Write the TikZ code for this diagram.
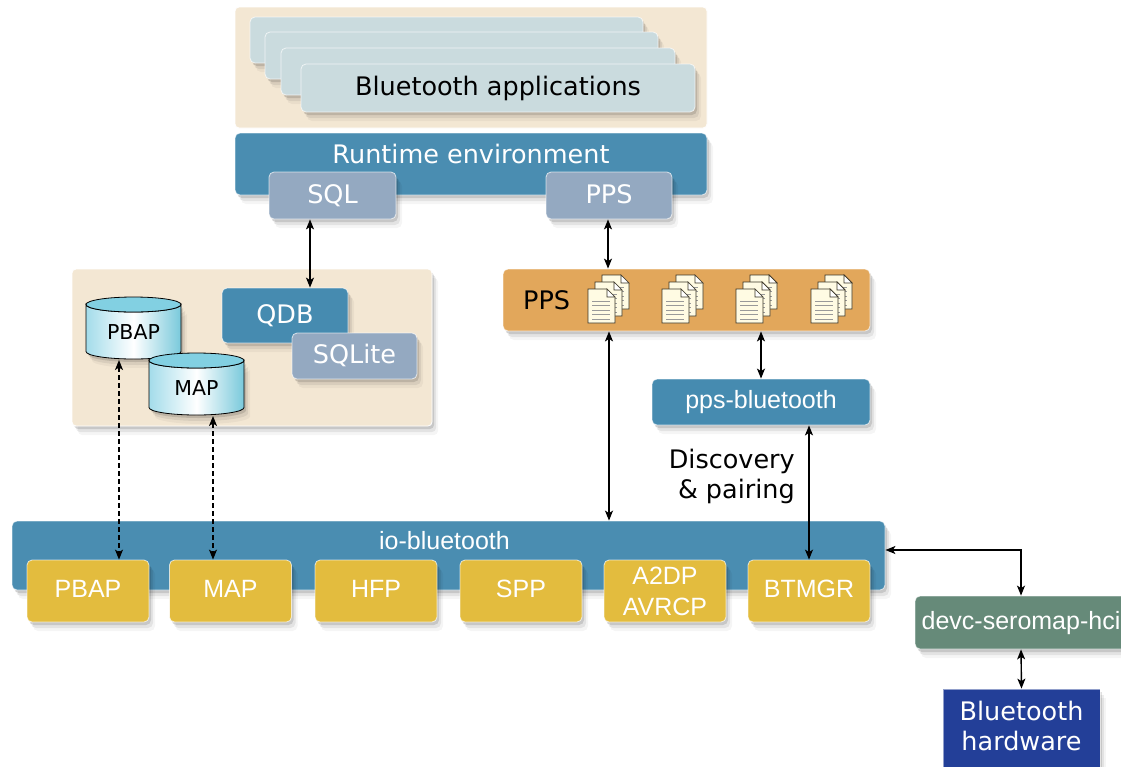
\documentclass[tikz,border=0pt]{standalone}
\usepackage{fontspec}
\setmainfont{DejaVu Sans}
\newfontfamily\arialf{Liberation Sans}
\usetikzlibrary{arrows.meta,shadows,calc}
\definecolor{beige}{HTML}{F3E7D3}
\definecolor{appcol}{HTML}{CADBDE}
\definecolor{rtblue}{HTML}{4A8DB1}
\definecolor{greyblue}{HTML}{94A9C1}
\definecolor{qdbblue}{HTML}{468BB0}
\definecolor{orangec}{HTML}{E2A75B}
\definecolor{yboxc}{HTML}{E3BC3E}
\definecolor{devcg}{HTML}{668A79}
\definecolor{hwblue}{HTML}{233F98}
\definecolor{cylL}{HTML}{A3DCEA}
\definecolor{cylR}{HTML}{79C9DB}
\definecolor{cyltop}{HTML}{82D0E2}
\definecolor{pagecol}{HTML}{FFFBE3}
\definecolor{pageline}{HTML}{3B3526}
\newcommand\bigfs{\fontsize{25.5pt}{30pt}\selectfont}
\newcommand\arialfs{\arialf\fontsize{25pt}{30pt}\selectfont}
\newcommand\cylfs{\fontsize{20.5pt}{24pt}\selectfont}
\newcommand\dbcyl[3]{%
  \path[shad, left color=cylL, right color=cylR, middle color=white, draw=black, line width=.8pt]
    (#1-47.5,#2+7.5) -- (#1-47.5,#3-7.5)
    arc[start angle=180,end angle=360,x radius=47.5pt,y radius=7.5pt]
    -- (#1+47.5,#2+7.5)
    arc[start angle=0,end angle=-180,x radius=47.5pt,y radius=7.5pt] -- cycle;
  \filldraw[fill=cyltop, draw=black, line width=.8pt] (#1,#2+7.5) ellipse[x radius=47.5pt,y radius=7.5pt];
}
\begin{document}
\begin{tikzpicture}[x=1pt,y=-1pt,
  shad/.style={drop shadow={shadow xshift=2pt,shadow yshift=-3pt,opacity=.12,fill=black},
               drop shadow={shadow xshift=4pt,shadow yshift=-6pt,opacity=.07,fill=black},
               drop shadow={shadow xshift=6pt,shadow yshift=-9pt,opacity=.04,fill=black}},
  blk/.style={rectangle,rounded corners=5pt,draw=white,draw opacity=.7,line width=.8pt,
              inner sep=0pt,text height=18.5pt,text depth=3pt,text=white,font=\bigfs},
  ablk/.style={blk,font=\arialfs,text height=17.9pt,text depth=4pt},
  bg/.style={rectangle,rounded corners=4pt,fill=beige,draw=white,line width=.8pt,inner sep=0pt},
  txtc/.style={inner sep=0pt,text height=18.5pt,text depth=0pt,font=\bigfs},
  txtb/.style={inner sep=0pt,font=\bigfs},
  ybox/.style={ablk,shad,fill=yboxc,minimum width=122pt,minimum height=62pt},
  arr/.style={arrows={Stealth[length=10pt,width=8pt,inset=2.5pt]-Stealth[length=10pt,width=8pt,inset=2.5pt]},line width=1.4pt,black},
  docpage/.pic={
    \filldraw[fill=pagecol,draw=pageline,line width=.7pt] (0,0) -- (19,0) -- (27,8) -- (27,34) -- (0,34) -- cycle;
    \filldraw[fill=white,draw=pageline,line width=.7pt] (19,0) -- (19,8) -- (27,8) -- cycle;
    \foreach \yy in {12,16.5,21,25.5,30} \draw[gray!80,line width=1pt] (4,\yy) -- (22,\yy);
  },
  docstack/.pic={
    \pic at (14,-14) {docpage};
    \pic at (7,-7) {docpage};
    \pic at (0,0) {docpage};
  }
]
\useasboundingbox (0,0) rectangle (1121,766);
\fill[white] (0,0) rectangle (1121,766);

% top area
\node[bg] (topbg) at (471,67.5) [minimum width=472pt,minimum height=121pt] {};
\node[blk,shad,fill=appcol,minimum width=393pt,minimum height=46pt] (app1) at (446.5,40) {};
\node[blk,shad,fill=appcol,minimum width=393pt,minimum height=47pt] (app2) at (461.5,55.5) {};
\node[blk,shad,fill=appcol,minimum width=394pt,minimum height=47pt] (app3) at (478,71.5) {};
\node[blk,shad,fill=appcol,text=black,minimum width=394pt,minimum height=48pt] (app4) at (498,88) {Bluetooth applications};

\node[blk,shad,fill=rtblue,minimum width=472pt,minimum height=62pt] (runtime) at (471,164) {};
\node[txtc,text=white] (rtlabel) at (471,154) {Runtime environment};
\node[blk,shad,fill=greyblue,minimum width=127pt,minimum height=47pt] (sql) at (332.5,195.5) {SQL};
\node[blk,shad,fill=greyblue,minimum width=126pt,minimum height=47pt] (ppstop) at (609,195.5) {PPS};

% left database area
\node[bg,shad] (leftbg) at (252,347.5) [minimum width=360pt,minimum height=157pt] {};
\node[blk,shad,fill=qdbblue,minimum width=126pt,minimum height=55pt] (qdb) at (285,315.5) {QDB};
\node[blk,shad,fill=greyblue,minimum width=125pt,minimum height=46pt] (sqlite) at (354.5,356) {SQLite};
\dbcyl{133.5}{297}{359}
\node[txtc,font=\cylfs,text height=14.9pt] (pbapdb) at (133.5,332) {PBAP};
\dbcyl{196.5}{353}{415}
\node[txtc,font=\cylfs,text height=14.9pt] (mapdb) at (196.5,388.5) {MAP};
\coordinate (pbapbot) at (119,360);
\coordinate (mapbot) at (213,416);

% PPS
\node[blk,shad,fill=orangec,minimum width=367pt,minimum height=62pt] (ppsbar) at (686.5,300) {};
\node[txtc,anchor=west] (ppslabel) at (523,300) {PPS};
\pic at (588,289) {docstack};
\pic at (662,289) {docstack};
\pic at (736,289) {docstack};
\pic at (811,289) {docstack};
\node[ablk,shad,fill=qdbblue,minimum width=218pt,minimum height=46pt] (ppsbt) at (761,402) {pps-bluetooth};

\node[txtb,anchor=base east] (disc1) at (795,468) {Discovery};
\node[txtb,anchor=base east] (disc2) at (795,498) {\& pairing};

% io-bluetooth
\node[blk,shad,fill=rtblue,minimum width=873pt,minimum height=69pt] (iobar) at (448.5,555.5) {};
\node[txtc,font=\arialfs,text height=17.9pt,text=white] (iolabel) at (444.5,541) {io-bluetooth};
\node[ybox] (pbapy) at (88,591) {PBAP};
\node[ybox] (mapy) at (230.5,591) {MAP};
\node[ybox] (hfp) at (376,591) {HFP};
\node[ybox] (spp) at (521,591) {SPP};
\node[ybox] (a2dp) at (665,591) {};
\node[txtb,font=\arialfs,text=white,anchor=base] (a2dp1) at (665,584) {A2DP};
\node[txtb,font=\arialfs,text=white,anchor=base] (a2dp2) at (665,615) {AVRCP};
\node[ybox] (btmgr) at (809,591) {BTMGR};

% right
\node[ablk,shad,fill=devcg,minimum width=212pt,minimum height=53pt,text depth=3pt] (devc) at (1021,622.5) {devc-seromap-hci};
\node[rectangle,shad,fill=hwblue,draw=white,draw opacity=.5,line width=.8pt,minimum width=157pt,minimum height=81pt] (hw) at (1021.5,729.5) {};
\node[txtb,text=white,anchor=base] (hw1) at (1021.5,720.7) {Bluetooth};
\node[txtb,text=white,anchor=base] (hw2) at (1021.5,750.7) {hardware};

% connectors
\draw[arr] (310,0 |- sql.south) -- (310,0 |- qdb.north);
\draw[arr] (608,0 |- ppstop.south) -- (608,0 |- ppsbar.north);
\draw[arr] (609,0 |- ppsbar.south) -- (609,0 |- iobar.north);
\draw[arr] (ppsbt.north |- ppsbar.south) -- (ppsbt.north);
\draw[arr] (btmgr.north |- ppsbt.south) -- (btmgr.north);
\draw[arr,dash pattern=on 5pt off 3pt] (pbapbot) -- (pbapbot |- pbapy.north);
\draw[arr,dash pattern=on 5pt off 3pt] (mapbot) -- (mapbot |- mapy.north);
\draw[arr] (iobar.east |- 0,550) -| (devc.north);
\draw[arr] (devc.south) -- (hw.north);
\end{tikzpicture}
\end{document}
